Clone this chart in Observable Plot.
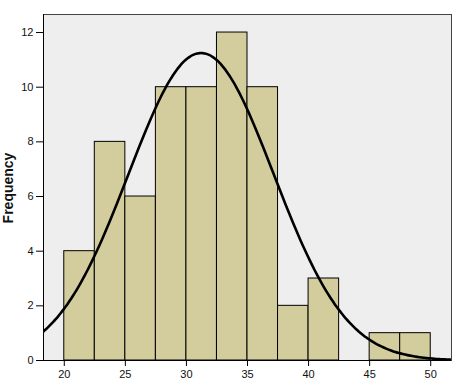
<!DOCTYPE html>
<html>
<head>
<meta charset="utf-8">
<script src="https://cdn.jsdelivr.net/npm/d3@7"></script>
<script src="https://cdn.jsdelivr.net/npm/@observablehq/plot@0.6"></script>
<style>
  body { margin: 0; background: #fff; }
  #chart { position: relative; width: 456px; height: 391px; }
  #ylab { position: absolute; left: 8px; top: 188px; white-space: nowrap; transform: translate(-50%,-50%) rotate(-90deg); transform-origin: center; font: bold 14px "Liberation Sans", Arial, sans-serif; color: #111; }
</style>
</head>
<body>
<div id="chart"></div>
<script>
// Histogram bins (lower edge, upper edge) and frequencies
const binStart = [20, 22.5, 25, 27.5, 30, 32.5, 35, 37.5, 40, 42.5, 45, 47.5];
const binEnd   = [22.5, 25, 27.5, 30, 32.5, 35, 37.5, 40, 42.5, 45, 47.5, 50];
const freq     = [4, 8, 6, 10, 10, 12, 10, 2, 3, 0, 1, 1];
const xTicks = [20, 25, 30, 35, 40, 45, 50];
const yTicks = [0, 2, 4, 6, 8, 10, 12];
// Normal curve parameters
const mean = 31.2, sd = 5.94, nObs = 67, binWidth = 2.5;

const bins = binStart.map((s, i) => ({x1: s, x2: binEnd[i], y: freq[i]})).filter(d => d.y > 0);
const xDom = [18.3, 51.7];
const curve = d3.range(xDom[0], xDom[1] + 0.001, 0.2).map(x => ({
  x, y: nObs * binWidth / (sd * Math.sqrt(2 * Math.PI)) * Math.exp(-((x - mean) ** 2) / (2 * sd * sd))
}));

const plot = Plot.plot({
  width: 456, height: 391,
  marginLeft: 43, marginRight: 5, marginTop: 14, marginBottom: 31,
  style: {fontFamily: "'Liberation Sans', Arial, sans-serif", fontSize: "11px", color: "#111", background: "#fff"},
  x: {domain: xDom, ticks: xTicks, label: null},
  y: {domain: [0, 12.66], ticks: yTicks, label: null},
  marks: [
    Plot.frame({fill: "#eeeeef", stroke: null}),
    Plot.rectY(bins, {x1: "x1", x2: "x2", y: "y", fill: "#d3cd9e", stroke: "#000", strokeWidth: 1, insetLeft: 0, insetRight: 0}),
    Plot.line(curve, {x: "x", y: "y", stroke: "#000", strokeWidth: 2.6, curve: "natural", clip: true}),
    Plot.frame({stroke: "#444", strokeWidth: 1}),
    Plot.ruleY([0], {stroke: "#000"}),
    Plot.ruleX([xDom[0]], {stroke: "#000"}),
    Plot.axisX({ticks: xTicks, tickSize: 6, tickPadding: 4, label: null, stroke: "#000"}),
    Plot.axisY({ticks: yTicks, tickSize: 7, tickPadding: 3, label: null, stroke: "#000"})
  ]
});
const chart = document.getElementById("chart");
chart.appendChild(plot);
const lab = document.createElement("div");
lab.id = "ylab";
lab.textContent = "Frequency";
chart.appendChild(lab);
</script>
</body>
</html>
